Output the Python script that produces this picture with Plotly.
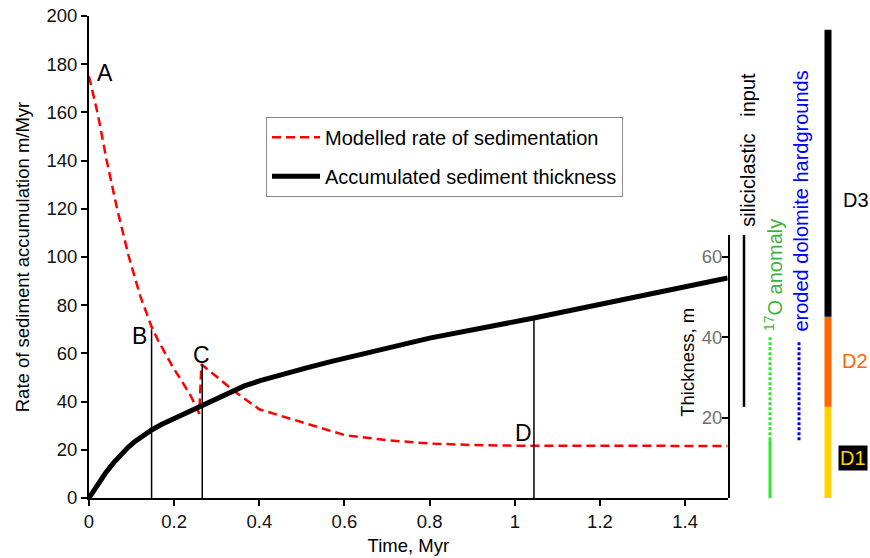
import plotly.graph_objects as go

# ---------------- data ----------------
# Modelled rate of sedimentation (m/Myr) vs time (Myr)
rate_t = [0, 0.021, 0.041, 0.066, 0.093, 0.120, 0.147, 0.162, 0.179, 0.198, 0.218,
          0.240, 0.259, 0.264, 0.300, 0.339, 0.400, 0.472, 0.600, 0.700, 0.800,
          0.900, 1.000, 1.500]
rate_v = [175, 159, 140.5, 120, 100.5, 84, 71, 65.5, 60, 54, 48.5,
          42, 35, 55.5, 50.3, 44.6, 36.8, 33.0, 26.1, 24.0, 22.6,
          22.0, 21.7, 21.6]

# Accumulated sediment thickness (m) vs time (Myr)
thk_t = [0, 0.02, 0.038, 0.058, 0.077, 0.092, 0.108, 0.128, 0.148, 0.170, 0.195,
         0.215, 0.238, 0.265, 0.300, 0.331, 0.365, 0.402, 0.455, 0.511, 0.570,
         0.629, 0.800, 1.045, 1.263, 1.500]
thk_m = [0, 3.3, 6.1, 8.8, 11.0, 12.6, 14.1, 15.7, 17.0, 18.3, 19.5,
         20.5, 21.6, 22.8, 24.7, 26.3, 27.9, 29.2, 30.9, 32.4, 34.0,
         35.5, 39.8, 44.8, 49.5, 54.8]

# Reference points A-D
point_labels = ["A", "B", "C", "D"]
marker_t = [0.147, 0.266, 1.045]          # vertical marker lines (B, C, D)
marker_top = [70.0, 55.5, 74.7]           # top of marker lines (rate axis units)

# Right-hand stratigraphic columns (thickness, m)
silici_m = [22.7, 65.5]
o17_dotted_m = [14.4, 40.0]
o17_solid_m = [0.0, 14.4]
hardground_m = [14.4, 39.0]
unit_names = ["D1", "D2", "D3"]
unit_bottom_m = [0.0, 22.7, 45.1]
unit_top_m = [22.7, 45.1, 116.6]

x_ticks = [0, 0.2, 0.4, 0.6, 0.8, 1.0, 1.2, 1.4]
rate_ticks = [0, 20, 40, 60, 80, 100, 120, 140, 160, 180, 200]
thk_ticks = [20, 40, 60]

# ---------------- layout constants ----------------
W, H = 870, 558
ML, MR, MT, MB = 89, 0, 16, 60
PW = W - ML - MR
PH = H - MT - MB
X_END = (727.7 - ML) / PW          # right edge of main plot (paper)
THK_FULL = 120.0                   # thickness equivalent of full plot height
THK_AXIS_TOP = 65.5
X3_START_PX = 735
X3_DOM = [(X3_START_PX - ML) / PW, 1.0]

FONT = "Liberation Sans, Arial, sans-serif"
RED = "#ff0000"
GREEN_LINE = "#2ee82e"
GREEN_TEXT = "#3cb43c"
BLUE = "#0000ff"
ORANGE = "#ff6600"
YELLOW = "#ffd400"
unit_colors = [YELLOW, ORANGE, "#000000"]
unit_text_colors = [YELLOW, ORANGE, "#000000"]

fig = go.Figure()

# Modelled rate (left axis)
fig.add_trace(go.Scatter(
    x=rate_t, y=rate_v, mode="lines", name="Modelled rate of sedimentation",
    line=dict(color=RED, width=2.5, dash="9px,5px"),
    legendgroup="a", xaxis="x", yaxis="y"))

# Accumulated thickness (right axis, metres)
fig.add_trace(go.Scatter(
    x=thk_t, y=thk_m, mode="lines", name="Accumulated sediment thickness",
    line=dict(color="black", width=5),
    legendgroup="b", xaxis="x2", yaxis="y2"))

# Vertical marker lines B, C, D
mx, my = [], []
for t, top in zip(marker_t, marker_top):
    mx += [t, t, None]
    my += [0, top, None]
fig.add_trace(go.Scatter(x=mx, y=my, mode="lines", showlegend=False,
                         line=dict(color="black", width=1.5),
                         xaxis="x", yaxis="y", hoverinfo="skip"))

# Right-hand columns (x3 units are pixels)
COL_SILICI, COL_O17, COL_HG, COL_UNIT = 744, 770, 799, 828


def col_trace(xpx, yr, color, width, dash="solid"):
    return go.Scatter(x=[xpx, xpx], y=yr, mode="lines", showlegend=False,
                      line=dict(color=color, width=width, dash=dash),
                      xaxis="x3", yaxis="y3", hoverinfo="skip")


fig.add_trace(col_trace(COL_SILICI, silici_m, "black", 2.5))
fig.add_trace(col_trace(COL_O17, o17_dotted_m, GREEN_LINE, 3, "3px,2px"))
fig.add_trace(col_trace(COL_O17, o17_solid_m, GREEN_LINE, 3))
fig.add_trace(col_trace(COL_HG, hardground_m, BLUE, 3, "3px,2px"))
for b, t, c in zip(unit_bottom_m, unit_top_m, unit_colors):
    fig.add_trace(col_trace(COL_UNIT, [b, t], c, 7))

# ---------------- annotations ----------------
ann = []
label_pos = {"A": (0.037, 176.3), "B": (0.119, 67.4), "C": (0.265, 59.3), "D": (1.02, 27.1)}
for lab in point_labels:
    lx, ly = label_pos[lab]
    ann.append(dict(x=lx, y=ly, xref="x", yref="y", text=lab, showarrow=False,
                    font=dict(family=FONT, size=23, color="black"),
                    xanchor="center", yanchor="middle"))

ann.append(dict(x=1.4066, y=33.9, xref="x", yref="y2", text="Thickness, m",
                textangle=-90, showarrow=False,
                font=dict(family=FONT, size=18.5, color="black")))

ann.append(dict(x=748, y=86.7, xref="x3", yref="y3", text="siliciclastic   input",
                textangle=-90, showarrow=False,
                font=dict(family=FONT, size=20, color="black")))
ann.append(dict(x=773, y=55.5, xref="x3", yref="y3",
                text="<sup>17</sup>O anomaly",
                textangle=-90, showarrow=False,
                font=dict(family=FONT, size=20, color=GREEN_TEXT)))
ann.append(dict(x=801, y=73.8, xref="x3", yref="y3",
                text="eroded dolomite hardgrounds",
                textangle=-90, showarrow=False,
                font=dict(family=FONT, size=20, color=BLUE)))

unit_label_pos = {"D1": (852.5, 10.0), "D2": (855, 34.0), "D3": (856, 74.2)}
for name, col in zip(unit_names, unit_text_colors):
    ux, uy = unit_label_pos[name]
    a = dict(x=ux, y=uy, xref="x3", yref="y3", text=name, showarrow=False,
             font=dict(family=FONT, size=20, color=col))
    if name == "D1":
        a.update(bgcolor="black", borderpad=1)
    ann.append(a)

fig.update_layout(
    width=W, height=H,
    margin=dict(l=ML, r=MR, t=MT, b=MB, pad=0),
    paper_bgcolor="white", plot_bgcolor="rgba(0,0,0,0)",
    font=dict(family=FONT, size=18, color="black"),
    showlegend=True,
    legend=dict(x=(266 - ML) / PW, y=(498 - 116.7) / PH,
                xanchor="left", yanchor="top",
                bordercolor="#888888", borderwidth=1, bgcolor="white",
                font=dict(family=FONT, size=20, color="black"),
                itemwidth=48,
                tracegroupgap=10, traceorder="grouped"),
    xaxis=dict(domain=[0, X_END], range=[0, 1.5], tickvals=x_ticks,
               ticks="outside", ticklen=6, tickwidth=2, tickcolor="black",
               showline=True, linecolor="black", linewidth=2,
               showgrid=False, zeroline=False,
               tickfont=dict(family=FONT, size=18.5, color="#111111"),
               title=dict(text="Time, Myr", font=dict(family=FONT, size=18.5),
                          standoff=8),
               anchor="y"),
    yaxis=dict(domain=[0, 1], range=[0, 200], tickvals=rate_ticks,
               ticks="outside", ticklen=6, tickwidth=2, tickcolor="black",
               showline=True, linecolor="black", linewidth=2,
               showgrid=False, zeroline=False,
               tickfont=dict(family=FONT, size=18.5, color="#111111"),
               title=dict(text="Rate of sediment accumulation m/Myr",
                          font=dict(family=FONT, size=18.5), standoff=12),
               anchor="x"),
    xaxis2=dict(domain=[0, X_END], range=[0, 1.5], visible=False,
                anchor="y2", matches="x"),
    yaxis2=dict(domain=[0, THK_AXIS_TOP / THK_FULL], range=[0, THK_AXIS_TOP],
                tickvals=thk_ticks, side="right", anchor="x2",
                ticks="inside", ticklen=6, tickwidth=2, tickcolor="black",
                ticklabelposition="inside",
                showline=True, linecolor="black", linewidth=2,
                showgrid=False, zeroline=False,
                tickfont=dict(family=FONT, size=18.5, color="#707070")),
    xaxis3=dict(domain=X3_DOM, range=[X3_START_PX, W], visible=False,
                anchor="y3", fixedrange=True),
    yaxis3=dict(domain=[0, 1], range=[0, THK_FULL], visible=False,
                anchor="x3", fixedrange=True),
    annotations=ann,
)

fig.write_html("out.html")
